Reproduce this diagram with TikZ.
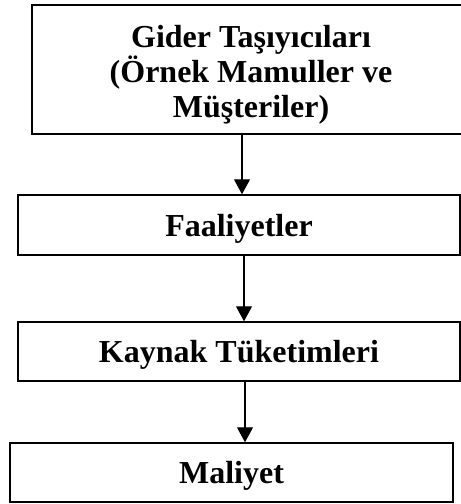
\documentclass[tikz,border=0pt]{standalone}
\usepackage{fontspec}
\setmainfont{Liberation Serif}
\usetikzlibrary{arrows.meta}
\begin{document}
\begin{tikzpicture}[x=1pt,y=-1pt,
  box/.style={draw, line width=1.5pt, rectangle, inner sep=0pt,
    font=\bfseries\fontsize{32}{35}\selectfont},
  oneline/.style={text height=22pt, text depth=0pt},
  arr/.style={line width=1.2pt, -{Triangle[width=16pt,length=15pt]}}]
  \useasboundingbox (0,0) rectangle (461,504);
  % top box runs past the right edge of the page
  \node[box, minimum width=438pt, minimum height=129pt] (b1) at (251,69.5) {};
  \node[font=\bfseries\fontsize{32}{35}\selectfont, align=center, inner sep=0pt]
    (t1) at ([yshift=-5.5pt]b1.center) {Gider Taşıyıcıları\\(Örnek Mamuller ve\\Müşteriler)};
  \node[box, oneline, minimum width=442pt, minimum height=60pt] (b2) at (239,225) {Faaliyetler};
  \node[box, oneline, minimum width=442pt, minimum height=59pt] (b3) at (239,351.5) {Kaynak Tüketimleri};
  \node[box, oneline, minimum width=443pt, minimum height=59pt] (b4) at (231.5,472.5) {Maliyet};
  % connectors
  \draw[arr] ([xshift=-9pt]b1.south) -- ([xshift=3pt]b2.north);
  \draw[arr] ([xshift=5pt]b2.south) -- ([xshift=5pt]b3.north);
  \draw[arr] ([xshift=6pt]b3.south) -- ([xshift=13.5pt]b4.north);
\end{tikzpicture}
\end{document}
